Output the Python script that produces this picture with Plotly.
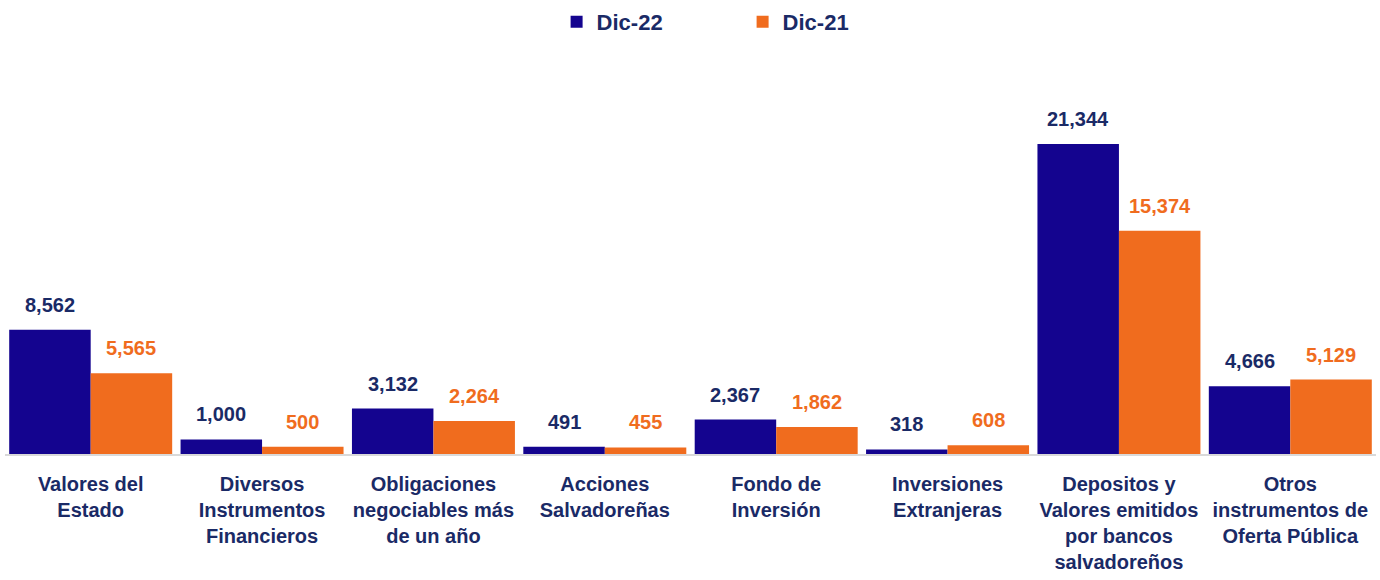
import plotly.graph_objects as go

categories = [
    "Valores del<br>Estado",
    "Diversos<br>Instrumentos<br>Financieros",
    "Obligaciones<br>negociables más<br>de un año",
    "Acciones<br>Salvadoreñas",
    "Fondo de<br>Inversión",
    "Inversiones<br>Extranjeras",
    "Depositos y<br>Valores emitidos<br>por bancos<br>salvadoreños",
    "Otros<br>instrumentos de<br>Oferta Pública",
]
dic22 = [8562, 1000, 3132, 491, 2367, 318, 21344, 4666]
dic21 = [5565, 500, 2264, 455, 1862, 608, 15374, 5129]
series_names = ["Dic-22", "Dic-21"]

BLUE = "#14048F"
ORANGE = "#F06C1E"
NAVY = "#1A2A66"
FONT = "Liberation Sans Narrow, Arial Narrow, Liberation Sans, Arial, sans-serif"

fig = go.Figure()
fig.add_trace(go.Bar(x=categories, y=dic22, name=f"<b>{series_names[0]}</b>", marker_color=BLUE,
                     marker_line_width=0, hoverinfo="skip"))
fig.add_trace(go.Bar(x=categories, y=dic21, name=f"<b>{series_names[1]}</b>", marker_color=ORANGE,
                     marker_line_width=0, hoverinfo="skip"))

W, H = 1380, 580
ml, mr, mt, mb = 5, 4, 80, 126
plot_w = W - ml - mr
plot_h = H - mt - mb
cat_w = plot_w / len(categories)
bargap = 0.049
bar_w = cat_w * (1 - bargap) / 2

annotations = []
for cat, v in zip(categories, dic22):
    annotations.append(dict(x=cat, y=v, xref="x", yref="y", text=f"<b>{v:,}</b>",
                            showarrow=False, xshift=-bar_w / 2, yshift=12, yanchor="bottom",
                            font=dict(family=FONT, size=20, color=NAVY)))
for cat, v in zip(categories, dic21):
    annotations.append(dict(x=cat, y=v, xref="x", yref="y", text=f"<b>{v:,}</b>",
                            showarrow=False, xshift=bar_w / 2, yshift=12, yanchor="bottom",
                            font=dict(family=FONT, size=20, color=ORANGE)))

fig.update_layout(
    width=W, height=H,
    margin=dict(l=ml, r=mr, t=mt, b=mb, autoexpand=False),
    paper_bgcolor="white", plot_bgcolor="white",
    barmode="group", bargap=bargap, bargroupgap=0,
    font=dict(family=FONT, color=NAVY),
    legend=dict(orientation="h", x=0.538, xanchor="center", y=(plot_h + mt - 22) / plot_h,
                yanchor="middle", font=dict(family=FONT, size=22, color=NAVY),
                entrywidth=141, itemwidth=30, traceorder="normal"),
    annotations=annotations,
    xaxis=dict(showline=True, linecolor="#D9D9D9", linewidth=2, ticks="", tickangle=0,
               automargin=False,
               tickfont=dict(family=FONT, size=20, color=NAVY), ticklabelstandoff=11,
               showgrid=False),
    yaxis=dict(range=[0, 25750], visible=False, showgrid=False),
)
fig.update_xaxes(tickvals=categories,
                 ticktext=["<b>" + c.replace("<br>", "</b><br><b>") + "</b>" for c in categories])

fig.write_html("out.html", config={"displayModeBar": False},
               post_script="document.body.style.margin='0';")
